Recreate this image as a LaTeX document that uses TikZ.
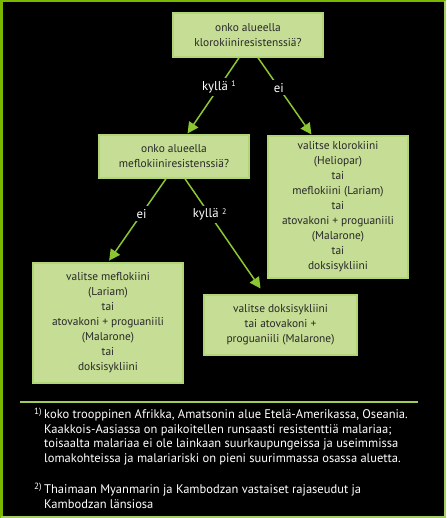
\documentclass[tikz,border=0pt]{standalone}
\usepackage{fontspec}
\setmainfont{PT Sans}
\usetikzlibrary{arrows.meta}
\definecolor{frameA}{RGB}{122,184,0}
\definecolor{frameB}{RGB}{166,206,100}
\definecolor{boxfill}{RGB}{197,221,148}
\definecolor{boxline}{RGB}{176,214,118}
\definecolor{arrowc}{RGB}{140,198,50}
\definecolor{txt}{RGB}{40,40,40}
\definecolor{sepc}{RGB}{160,205,90}
\tikzset{
  qbox/.style={draw=boxline, line width=1.5pt, fill=boxfill, text=txt, align=center,
    font=\fontsize{11.4}{15}\selectfont, inner sep=0pt},
  arr/.style={draw=arrowc, line width=1.5pt, -{Triangle[length=11pt,width=11pt]}},
  lab/.style={fill=black, text=white, inner sep=3pt, font=\fontsize{12.8}{14}\selectfont},
  fn/.style={text=white, anchor=base west, inner sep=0pt, font=\fontsize{12.5}{14}\selectfont},
  fnmark/.style={text=white, anchor=base west, inner sep=0pt, font=\fontsize{9}{10}\selectfont}
}
\begin{document}
\begin{tikzpicture}[x=1pt,y=-1pt]
\useasboundingbox (0,0) rectangle (446,518);
\fill[black] (0,0) rectangle (446,518);
\draw[frameA, line width=2.5pt] (1.25,518) -- (1.25,1.25) -- (446,1.25);
\draw[frameB, line width=2.5pt] (444.75,1.25) -- (444.75,516.75) -- (1.25,516.75);

\node[qbox, minimum width=150pt, minimum height=44pt] (b1) at (248,35)
  {onko alueella\\klorokiiniresistenssiä?};
\node[qbox, minimum width=150pt, minimum height=43pt] (b2) at (174,156.5)
  {onko alueella\\meflokiiniresistenssiä?};
\node[qbox, minimum width=140pt, minimum height=142pt] (b3) at (338,207)
  {valitse klorokiini\\(Heliopar)\\tai\\meflokiini (Lariam)\\tai\\atovakoni + proguaniili\\(Malarone)\\tai\\doksisykliini};
\node[qbox, minimum width=150pt, minimum height=120pt] (b4) at (108,323)
  {valitse meflokiini\\(Lariam)\\tai\\atovakoni + proguaniili\\(Malarone)\\tai\\doksisykliini};
\node[qbox, minimum width=153pt, minimum height=60pt] (b5) at (280.5,325)
  {valitse doksisykliini\\tai atovakoni +\\proguaniili (Malarone)};

\draw[arr, shorten >=1pt] ([xshift=-9pt]b1.south) -- node[lab, pos=0.385] {kyllä \raisebox{3.5pt}{\footnotesize 1}} ([xshift=13pt]b2.north);
\draw[arr, shorten >=1pt] ([xshift=10pt]b1.south) -- node[lab, pos=0.385] {ei} ([xshift=-26pt]b3.north);
\draw[arr, shorten >=2pt] ([xshift=-8pt]b2.south) -- node[lab, pos=0.42] {ei} (b4.north);
\draw[arr, shorten >=7pt] ([xshift=11pt]b2.south) -- node[lab, pos=0.31] {kyllä \raisebox{3.5pt}{\footnotesize 2}} ([xshift=-16pt]b5.north);

\coordinate (s1) at (20,402);
\coordinate (s2) at (418,402);
\draw[sepc, line width=1.2pt] (s1) -- (s2);

\node[fnmark] (m1) at (34,414) {1)};
\node[fn] (f1) at (44,418.5) {koko trooppinen Afrikka, Amatsonin alue Etelä-Amerikassa, Oseania.};
\node[fn] (f2) at (44,433.2) {Kaakkois-Aasiassa on paikoitellen runsaasti resistenttiä malariaa;};
\node[fn] (f3) at (44,447.9) {toisaalta malariaa ei ole lainkaan suurkaupungeissa ja useimmissa};
\node[fn] (f4) at (44,462.5) {lomakohteissa ja malariariski on pieni suurimmassa osassa aluetta.};
\node[fnmark] (m2) at (34,489) {2)};
\node[fn] (f5) at (44,493.5) {Thaimaan Myanmarin ja Kambodzan vastaiset rajaseudut ja};
\node[fn] (f6) at (44,508) {Kambodzan länsiosa};
\end{tikzpicture}
\end{document}
